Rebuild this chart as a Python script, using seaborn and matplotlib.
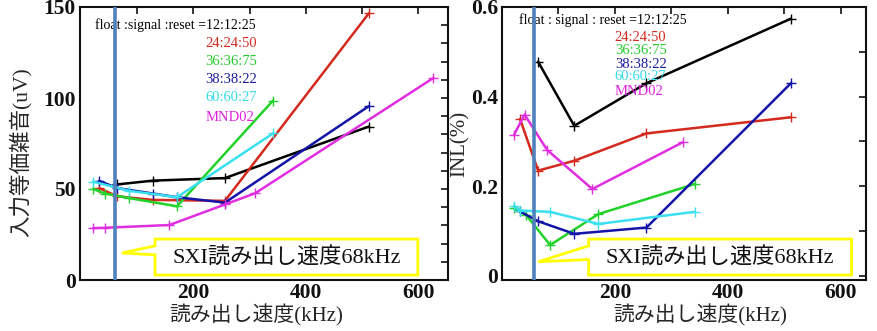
import numpy as np
import pandas as pd
import matplotlib
matplotlib.use("Agg")
import matplotlib.pyplot as plt
import seaborn as sns
from matplotlib.patches import Polygon
from matplotlib.ticker import FixedLocator

# ---------------- data ----------------
series_names = ["12:12:25", "24:24:50", "36:36:75", "38:38:22", "60:60:27", "MND02"]
series_colors = ["#000000", "#d42a1e", "#22d22a", "#1414a8", "#3ae0f0", "#e02ee0"]
legend_text_colors = ["#000000", "#d42a1e", "#22cc2a", "#1a1aa0", "#33dde8", "#dd22dd"]

# input equivalent noise (uV) vs readout speed (kHz)
noise_black_khz = [64, 128, 256, 512]
noise_black_uv = [52.5, 54.6, 56.0, 84.3]
noise_red_khz = [32, 64, 128, 256, 512]
noise_red_uv = [50.5, 46.0, 44.0, 43.5, 146.5]
noise_green_khz = [21.3, 42.7, 85.3, 170.7, 341.3]
noise_green_uv = [50.0, 47.5, 45.0, 40.5, 98.5]
noise_blue_khz = [32, 64, 128, 170.7, 256, 512]
noise_blue_uv = [54.5, 50.5, 47.5, 45.5, 42.5, 95.5]
noise_cyan_khz = [21.3, 85.3, 170.7, 341.3]
noise_cyan_uv = [54.0, 49.0, 45.5, 80.5]
noise_magenta_khz = [21.3, 42.7, 157, 256, 310, 627]
noise_magenta_uv = [28.5, 28.7, 30.2, 41.5, 47.7, 111.0]

# INL (%) vs readout speed (kHz)
inl_black_khz = [64, 128, 256, 512]
inl_black = [0.478, 0.335, 0.43, 0.574]
inl_red_khz = [32, 64, 128, 256, 512]
inl_red = [0.35, 0.235, 0.257, 0.318, 0.354]
inl_green_khz = [21.3, 42.7, 85.3, 170.7, 341.3]
inl_green = [0.151, 0.136, 0.069, 0.138, 0.205]
inl_blue_khz = [32, 64, 128, 256, 512]
inl_blue = [0.144, 0.122, 0.094, 0.108, 0.43]
inl_cyan_khz = [21.3, 32, 85.3, 170.7, 341.3]
inl_cyan = [0.156, 0.146, 0.143, 0.116, 0.143]
inl_magenta_khz = [21.3, 40, 80, 160, 320]
inl_magenta = [0.315, 0.36, 0.281, 0.194, 0.298]

sxi_line_left_khz = 61
sxi_line_right_khz = 56
callout_text = "SXI読み出し速度68kHz"
xlabel = "読み出し速度(kHz)"
ylabel_left = "入力等価雑音(uV)"
ylabel_right = "INL(%)"
x_tick_labels = ["200", "400", "600"]
x_tick_values = [200, 400, 600]
left_y_ticks = [0, 50, 100, 150]
right_y_ticks = [0, 0.2, 0.4, 0.6]
right_y_tick_labels = ["0", "0.2", "0.4", "0.6"]


def long_frame(xs, ys):
    rows = []
    for name, x, y in zip(series_names, xs, ys):
        for a, b in zip(x, y):
            rows.append({"series": name, "khz": a, "val": b})
    return pd.DataFrame(rows)


noise_df = long_frame(
    [noise_black_khz, noise_red_khz, noise_green_khz, noise_blue_khz, noise_cyan_khz, noise_magenta_khz],
    [noise_black_uv, noise_red_uv, noise_green_uv, noise_blue_uv, noise_cyan_uv, noise_magenta_uv],
)
inl_df = long_frame(
    [inl_black_khz, inl_red_khz, inl_green_khz, inl_blue_khz, inl_cyan_khz, inl_magenta_khz],
    [inl_black, inl_red, inl_green, inl_blue, inl_cyan, inl_magenta],
)

# ---------------- style ----------------
sns.set_style("white")
SERIF = ["Liberation Serif", "Noto Sans CJK JP"]
plt.rcParams["font.family"] = SERIF
plt.rcParams["axes.linewidth"] = 1.5
plt.rcParams["axes.edgecolor"] = "#111111"

palette = dict(zip(series_names, series_colors))

fig = plt.figure(figsize=(8.77, 3.31), dpi=100)
axL = fig.add_axes([80 / 877, 51 / 331, 368 / 877, 273 / 331])
axR = fig.add_axes([502 / 877, 51 / 331, 364 / 877, 273 / 331])


def draw_panel(ax, df, xlim, ylim, sxi_x):
    sns.lineplot(data=df, x="khz", y="val", hue="series", hue_order=series_names,
                 palette=palette, estimator=None, sort=False, legend=False,
                 marker="+", markersize=7, markeredgewidth=1.0, linewidth=1.8,
                 ax=ax, zorder=3)
    for ln in ax.get_lines():
        ln.set_markeredgecolor(ln.get_color())
        ln.set_markerfacecolor(ln.get_color())
    ax.set_xlim(*xlim)
    ax.set_ylim(*ylim)
    ax.axvline(sxi_x, color="#4f81bd", lw=2.6, zorder=5)
    ax.tick_params(which="both", direction="in", length=5, width=1.2,
                   top=True, right=True, colors="#111111")
    ax.xaxis.set_major_locator(FixedLocator(x_tick_values))
    ax.xaxis.set_minor_locator(FixedLocator([100, 300, 500]))
    ax.set_xticklabels(x_tick_labels, fontsize=15.5, fontweight="bold", family=SERIF)
    ax.tick_params(axis="x", which="major", pad=2)
    for sp in ax.spines.values():
        sp.set_visible(True)
        sp.set_linewidth(1.5)
    ax.set_xlabel(xlabel, fontsize=15, family=SERIF, labelpad=0)


draw_panel(axL, noise_df, (-2, 653), (0, 150), sxi_line_left_khz)
axL.yaxis.set_major_locator(FixedLocator(left_y_ticks))
axL.yaxis.set_minor_locator(FixedLocator([v for v in range(10, 150, 10) if v % 50]))
axL.set_yticklabels([str(v) for v in left_y_ticks], fontsize=15.5, fontweight="bold", family=SERIF)
axL.tick_params(axis="y", which="major", pad=3)
axL.set_ylabel(ylabel_left, fontsize=15.5, family=SERIF)
axL.yaxis.set_label_coords(-0.128, 0.47)

draw_panel(axR, inl_df, (0, 645), (-0.009, 0.6), sxi_line_right_khz)
axR.yaxis.set_major_locator(FixedLocator(right_y_ticks))
axR.yaxis.set_minor_locator(FixedLocator([0.1, 0.3, 0.5]))
axR.set_yticklabels(right_y_tick_labels, fontsize=15.5, fontweight="bold", family=SERIF)
axR.tick_params(axis="y", which="major", pad=3)
axR.set_ylabel(ylabel_right, fontsize=15, family=SERIF)
axR.yaxis.set_label_coords(-0.088, 0.5)

axL.xaxis.set_label_coords(0.48, -0.088)
axR.xaxis.set_label_coords(0.545, -0.088)

# legends as coloured text
left_legend = ["float :signal :reset =12:12:25"] + series_names[1:]
right_legend = ["float : signal : reset =12:12:25"] + series_names[1:]
left_pos = [(0.041, 0.934), (0.34, 0.868), (0.34, 0.799), (0.34, 0.733), (0.34, 0.667), (0.34, 0.597)]
right_pos = [(0.047, 0.952), (0.31, 0.89), (0.31, 0.839), (0.31, 0.791), (0.31, 0.744), (0.31, 0.692)]
for i, (t, c) in enumerate(zip(left_legend, legend_text_colors)):
    axL.text(*left_pos[i], t, color=c, transform=axL.transAxes, fontsize=10 if i == 0 else 10.5,
             va="center", ha="left", family=SERIF, zorder=4)
for i, (t, c) in enumerate(zip(right_legend, legend_text_colors)):
    axR.text(*right_pos[i], t, color=c, transform=axR.transAxes, fontsize=10 if i == 0 else 10.5,
             va="center", ha="left", family=SERIF, zorder=4)


def callout(ax, x0, x1, y0, y1, tip, base_top, base_bot):
    pts = [(x0, base_top), (x0, y1), (x1, y1), (x1, y0), (x0, y0), (x0, base_bot), tip]
    poly = Polygon(pts, closed=True, transform=ax.transAxes, facecolor="white",
                   edgecolor="#ffff00", lw=2.0, zorder=6)
    ax.add_patch(poly)
    ax.text((x0 + x1) / 2, (y0 + y1) / 2, callout_text, transform=ax.transAxes,
            ha="center", va="center", fontsize=16, family=SERIF, color="#111111", zorder=7)


callout(axL, 0.204, 0.918, 0.018, 0.150, (0.114, 0.099), 0.125, 0.092)
callout(axR, 0.238, 0.960, 0.018, 0.150, (0.10, 0.067), 0.125, 0.075)

fig.savefig("out.png", dpi=100)
